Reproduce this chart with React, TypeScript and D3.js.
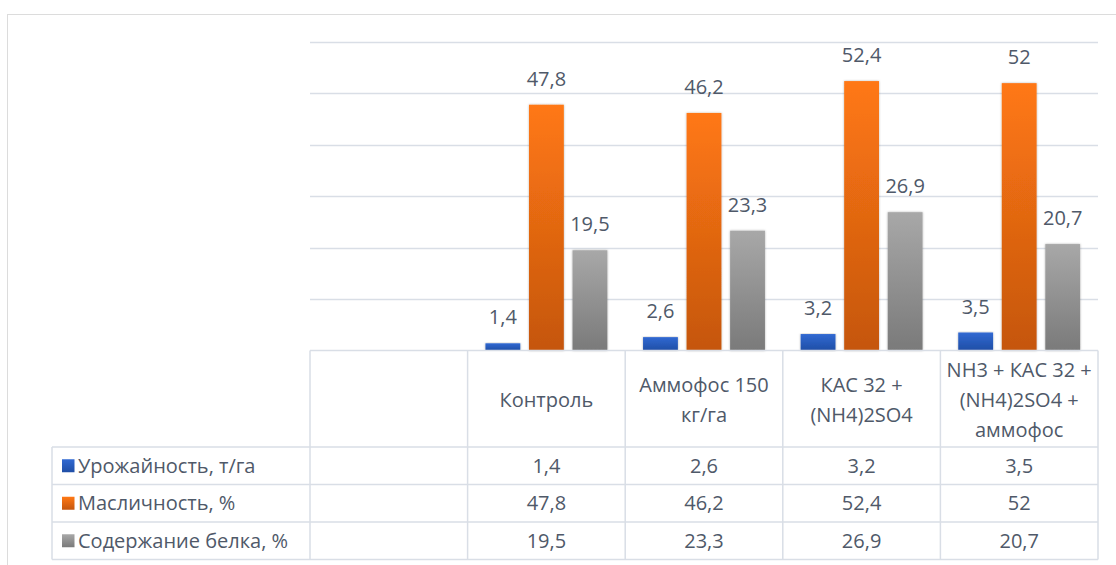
import React, { useEffect, useRef } from 'react';
import * as d3 from 'd3';

// категории (строки заголовков таблицы), первая колонка пустая
const categories: string[][] = [
  [],
  ['Контроль'],
  ['Аммофос 150', 'кг/га'],
  ['КАС 32 +', '(NH4)2SO4'],
  ['NH3 + КАС 32 +', '(NH4)2SO4 +', 'аммофос'],
];

const seriesNames = ['Урожайность, т/га', 'Масличность, %', 'Содержание белка, %'];
const yieldValues = [null, 1.4, 2.6, 3.2, 3.5];
const oilValues = [null, 47.8, 46.2, 52.4, 52];
const proteinValues = [null, 19.5, 23.3, 26.9, 20.7];
const yTicks = [0, 10, 20, 30, 40, 50, 60];

const seriesColors = [
  { top: '#3169d2', bottom: '#1f4ea6' },
  { top: '#ff7814', bottom: '#c5560e' },
  { top: '#a8a8a8', bottom: '#7a7a7a' },
];

const W = 1116;
const H = 565;
const TEXT = '#4f5969';
const LINE = '#d9dee6';
const FONT = '"Open Sans", sans-serif';

const App: React.FC = () => {
  const ref = useRef<SVGSVGElement>(null);

  useEffect(() => {
    const svg = d3.select(ref.current);
    svg.selectAll('*').remove();

    const plot = { left: 310, right: 1098, top: 42, bottom: 350.5 };
    const legendLeft = 52;
    const headerBottom = 447;
    const rowH = 37.5;

    const seriesValues = [yieldValues, oilValues, proteinValues];
    const catKeys = categories.map((c, i) => `${i}:${c.join(' ')}`);

    const x0 = d3.scaleBand().domain(catKeys).range([plot.left, plot.right]);
    const x1 = d3
      .scaleBand()
      .domain(seriesNames)
      .range([0, x0.bandwidth()])
      .paddingInner(0.2)
      .paddingOuter(0.41);
    const y = d3.scaleLinear().domain([0, 60]).range([plot.bottom, plot.top]);

    const defs = svg.append('defs');
    seriesColors.forEach((c, i) => {
      const g = defs
        .append('linearGradient')
        .attr('id', `grad${i}`)
        .attr('x1', 0)
        .attr('y1', 0)
        .attr('x2', 0)
        .attr('y2', 1);
      g.append('stop').attr('offset', '0%').attr('stop-color', c.top);
      g.append('stop').attr('offset', '100%').attr('stop-color', c.bottom);
    });
    defs
      .append('filter')
      .attr('id', 'shadow')
      .attr('x', '-20%')
      .attr('y', '-5%')
      .attr('width', '140%')
      .attr('height', '110%')
      .append('feDropShadow')
      .attr('dx', 0)
      .attr('dy', 0)
      .attr('stdDeviation', 1.3)
      .attr('flood-color', '#000')
      .attr('flood-opacity', 0.3);

    // рамка диаграммы
    svg
      .append('rect')
      .attr('x', 7.5)
      .attr('y', 14.5)
      .attr('width', W)
      .attr('height', H)
      .attr('fill', 'white')
      .attr('stroke', '#dcdcdc');

    // линии сетки
    svg
      .append('g')
      .selectAll('line')
      .data(yTicks.slice(1))
      .enter()
      .append('line')
      .attr('x1', plot.left)
      .attr('x2', plot.right)
      .attr('y1', d => Math.round(y(d)) + 0.5)
      .attr('y2', d => Math.round(y(d)) + 0.5)
      .attr('stroke', LINE)
      .attr('stroke-width', 1.5);

    // столбцы
    seriesNames.forEach((name, si) => {
      const g = svg.append('g');
      const data = seriesValues[si]
        .map((v, ci) => ({ v, key: catKeys[ci] }))
        .filter(d => d.v !== null) as { v: number; key: string }[];

      g.selectAll('rect')
        .data(data)
        .enter()
        .append('rect')
        .attr('x', d => x0(d.key)! + x1(name)!)
        .attr('y', d => y(d.v))
        .attr('width', x1.bandwidth())
        .attr('height', d => y(0) - y(d.v))
        .attr('fill', `url(#grad${si})`)
        .attr('filter', 'url(#shadow)');

      g.selectAll('text')
        .data(data)
        .enter()
        .append('text')
        .attr('x', d => x0(d.key)! + x1(name)! + x1.bandwidth() / 2)
        .attr('y', d => y(d.v) - 19)
        .attr('text-anchor', 'middle')
        .attr('fill', TEXT)
        .attr('font-family', FONT)
        .attr('font-size', 20)
        .text(d => String(d.v).replace('.', ','));
    });

    // таблица данных
    const table = svg.append('g').attr('stroke', LINE).attr('stroke-width', 1.5);
    const tableBottom = headerBottom + rowH * seriesNames.length;
    table
      .append('line')
      .attr('x1', plot.left)
      .attr('x2', plot.right)
      .attr('y1', plot.bottom)
      .attr('y2', plot.bottom);
    d3.range(seriesNames.length + 1).forEach(i => {
      table
        .append('line')
        .attr('x1', legendLeft)
        .attr('x2', plot.right)
        .attr('y1', headerBottom + i * rowH)
        .attr('y2', headerBottom + i * rowH);
    });
    table
      .append('line')
      .attr('x1', legendLeft)
      .attr('x2', legendLeft)
      .attr('y1', headerBottom)
      .attr('y2', tableBottom);
    [...catKeys.map(k => x0(k)!), plot.right].forEach(xv => {
      table
        .append('line')
        .attr('x1', xv)
        .attr('x2', xv)
        .attr('y1', plot.bottom)
        .attr('y2', tableBottom);
    });

    // заголовки категорий
    const headerMid = (plot.bottom + headerBottom) / 2 + 1;
    categories.forEach((lines, ci) => {
      const cx = x0(catKeys[ci])! + x0.bandwidth() / 2;
      lines.forEach((line, li) => {
        svg
          .append('text')
          .attr('x', cx)
          .attr('y', headerMid + (li - (lines.length - 1) / 2) * 30)
          .attr('dy', '0.35em')
          .attr('text-anchor', 'middle')
          .attr('fill', TEXT)
          .attr('font-family', FONT)
          .attr('font-size', 20)
          .text(line);
      });
    });

    // строки таблицы: легенда и значения
    seriesNames.forEach((name, si) => {
      const cy = headerBottom + si * rowH + rowH / 2;
      svg
        .append('rect')
        .attr('x', 62)
        .attr('y', cy - 6.5)
        .attr('width', 12.5)
        .attr('height', 13)
        .attr('fill', `url(#grad${si})`);
      svg
        .append('text')
        .attr('x', 78)
        .attr('y', cy)
        .attr('dy', '0.35em')
        .attr('fill', TEXT)
        .attr('font-family', FONT)
        .attr('font-size', 20)
        .text(name);
      seriesValues[si].forEach((v, ci) => {
        if (v === null) return;
        svg
          .append('text')
          .attr('x', x0(catKeys[ci])! + x0.bandwidth() / 2)
          .attr('y', cy)
          .attr('dy', '0.35em')
          .attr('text-anchor', 'middle')
          .attr('fill', TEXT)
          .attr('font-family', FONT)
          .attr('font-size', 20)
          .text(String(v).replace('.', ','));
      });
    });
  }, []);

  return (
    <div style={{ position: 'absolute', left: 0, top: 0 }}>
      <svg ref={ref} width={W} height={H} style={{ display: 'block', background: 'white' }} />
    </div>
  );
};

export default App;
